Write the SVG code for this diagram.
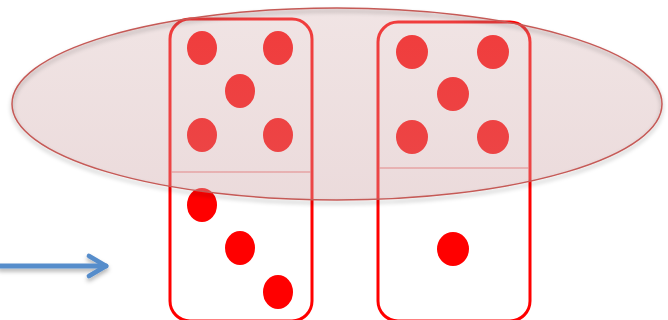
<svg xmlns="http://www.w3.org/2000/svg" width="668" height="320" viewBox="0 0 668 320">
<style>
.domino{fill:none;stroke:#ff0000;stroke-width:3}
.div{stroke:#f07070;stroke-width:1.2}
.pip{fill:#ff0000}
.conn{fill:none;stroke:#578dcb;stroke-width:5;stroke-linecap:round;stroke-linejoin:round}
</style>
<defs>
<linearGradient id="eg" x1="0" y1="0" x2="0" y2="1">
<stop offset="0" stop-color="rgb(212,176,176)" stop-opacity="0.34"/>
<stop offset="1" stop-color="rgb(208,168,170)" stop-opacity="0.42"/>
</linearGradient>
<filter id="sh" x="-10%" y="-10%" width="120%" height="130%">
<feDropShadow dx="0" dy="3" stdDeviation="2" flood-color="#000" flood-opacity="0.35"/>
</filter>
<filter id="ash" filterUnits="userSpaceOnUse" x="-10" y="240" width="140" height="50">
<feDropShadow dx="0" dy="3" stdDeviation="2" flood-color="#000" flood-opacity="0.3"/>
</filter>
<marker id="chev" viewBox="0 0 10 10" refX="8" refY="5" markerWidth="5" markerHeight="5" markerUnits="strokeWidth" orient="auto" overflow="visible">
<polyline points="1.2,1 8,5 1.2,9" fill="none" stroke="#578dcb" stroke-width="1.9" stroke-linecap="round" stroke-linejoin="round"/>
</marker>
</defs>
<rect width="668" height="320" fill="#ffffff"/>
<g id="domino1">
<rect class="domino" x="170" y="19" width="142" height="302" rx="20"/>
<line class="div" x1="171" y1="172" x2="311" y2="172"/>
<ellipse class="pip" cx="202" cy="48" rx="15" ry="17"/>
<ellipse class="pip" cx="278" cy="48" rx="15" ry="17"/>
<ellipse class="pip" cx="240" cy="91" rx="15" ry="17"/>
<ellipse class="pip" cx="202" cy="135" rx="15" ry="17"/>
<ellipse class="pip" cx="278" cy="135" rx="15" ry="17"/>
<ellipse class="pip" cx="202" cy="205" rx="15" ry="17"/>
<ellipse class="pip" cx="240" cy="248" rx="15" ry="17"/>
<ellipse class="pip" cx="278" cy="292" rx="15" ry="17"/>
</g>
<g id="domino2">
<rect class="domino" x="378" y="22" width="152" height="299" rx="20"/>
<line class="div" x1="379" y1="168" x2="529" y2="168"/>
<ellipse class="pip" cx="412" cy="52" rx="16" ry="17"/>
<ellipse class="pip" cx="493" cy="52" rx="16" ry="17"/>
<ellipse class="pip" cx="453" cy="94" rx="16" ry="17"/>
<ellipse class="pip" cx="412" cy="137" rx="16" ry="17"/>
<ellipse class="pip" cx="493" cy="137" rx="16" ry="17"/>
<ellipse class="pip" cx="453" cy="249" rx="16" ry="17"/>
</g>
<g id="group-ellipse">
<ellipse cx="337" cy="104" rx="325" ry="96" fill="url(#eg)"/>
<ellipse cx="337" cy="104" rx="325" ry="96" fill="none" stroke="#c55a57" stroke-width="1.5" filter="url(#sh)"/>
</g>
<g id="connectors">
<path class="conn" d="M0,266 L106,266" marker-end="url(#chev)" filter="url(#ash)"/>
</g>
</svg>
